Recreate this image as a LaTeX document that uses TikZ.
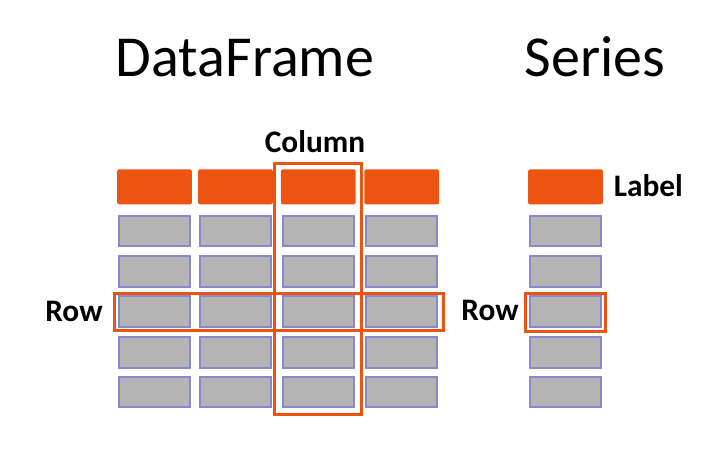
\documentclass[tikz,border=0pt]{standalone}
\usepackage{fontspec}
\setmainfont{Carlito}
\usepackage{tikz}

\definecolor{hdorange}{RGB}{238,84,17}
\definecolor{cellgray}{RGB}{180,180,180}
\definecolor{cellblue}{RGB}{136,136,204}

\tikzset{
  hdcell/.style={fill=hdorange, rounded corners=1.5pt, minimum width=56pt, minimum height=26.25pt, inner sep=0pt},
  cell/.style={draw=cellblue, fill=cellgray, line width=1.6pt, minimum width=53.1pt, minimum height=23.1pt, inner sep=0pt},
  hlbox/.style={draw=hdorange, line width=2.5pt},
  title/.style={inner sep=0pt, anchor=base, font=\fontsize{43.5pt}{52pt}\selectfont},
  tag/.style={inner sep=0pt, anchor=base, font=\bfseries\fontsize{23.5pt}{28pt}\selectfont}
}

\begin{document}
\begin{tikzpicture}[x=0.75pt,y=0.75pt,yscale=-1]
\useasboundingbox (0,0) rectangle (714,455);

%Shape: DataFrame header
\node[hdcell] (df-h1) at (154.5,186.8) {};
\node[hdcell] (df-h2) at (235.5,186.8) {};
\node[hdcell] (df-h3) at (318.3,186.8) {};
\node[hdcell] (df-h4) at (401.8,186.8) {};
%Shape: DataFrame rows
\node[cell] (df-r1c1) at (154.5,231) {};
\node[cell] (df-r1c2) at (235.5,231) {};
\node[cell] (df-r1c3) at (318.3,231) {};
\node[cell] (df-r1c4) at (401.8,231) {};
\node[cell] (df-r2c1) at (154.5,271.3) {};
\node[cell] (df-r2c2) at (235.5,271.3) {};
\node[cell] (df-r2c3) at (318.3,271.3) {};
\node[cell] (df-r2c4) at (401.8,271.3) {};
\node[cell] (df-r3c1) at (154.5,311.5) {};
\node[cell] (df-r3c2) at (235.5,311.5) {};
\node[cell] (df-r3c3) at (318.3,311.5) {};
\node[cell] (df-r3c4) at (401.8,311.5) {};
\node[cell] (df-r4c1) at (154.5,352.3) {};
\node[cell] (df-r4c2) at (235.5,352.3) {};
\node[cell] (df-r4c3) at (318.3,352.3) {};
\node[cell] (df-r4c4) at (401.8,352.3) {};
\node[cell] (df-r5c1) at (154.5,392) {};
\node[cell] (df-r5c2) at (235.5,392) {};
\node[cell] (df-r5c3) at (318.3,392) {};
\node[cell] (df-r5c4) at (401.8,392) {};

%Shape: Series header and rows
\node[hdcell] (sr-h) at (565.5,186.8) {};
\node[cell] (sr-r1) at (565.5,231) {};
\node[cell] (sr-r2) at (565.5,271.3) {};
\node[cell] (sr-r3) at (565.5,311.5) {};
\node[cell] (sr-r4) at (565.5,352.3) {};
\node[cell] (sr-r5) at (565.5,392) {};

%Shape: highlights
\draw[hlbox] (274.8,163.5) rectangle (361.2,414.5);
\draw[hlbox] (114.8,293.2) rectangle (443.5,330.8);
\draw[hlbox] (525.5,293.2) rectangle (605.2,331.2);

% Text Node
\node[title] (df-title) at (245,76.7) {DataFrame};
% Text Node
\node[title] (sr-title) at (595,76.7) {Series};
% Text Node
\node[tag] (df-col) at (315,152) {Column};
% Text Node
\node[tag] (df-row) at (74,321) {Row};
% Text Node
\node[tag] (sr-row) at (490,320.7) {Row};
% Text Node
\node[tag] (sr-label) at (648.3,196.7) {Label};

\end{tikzpicture}
\end{document}
